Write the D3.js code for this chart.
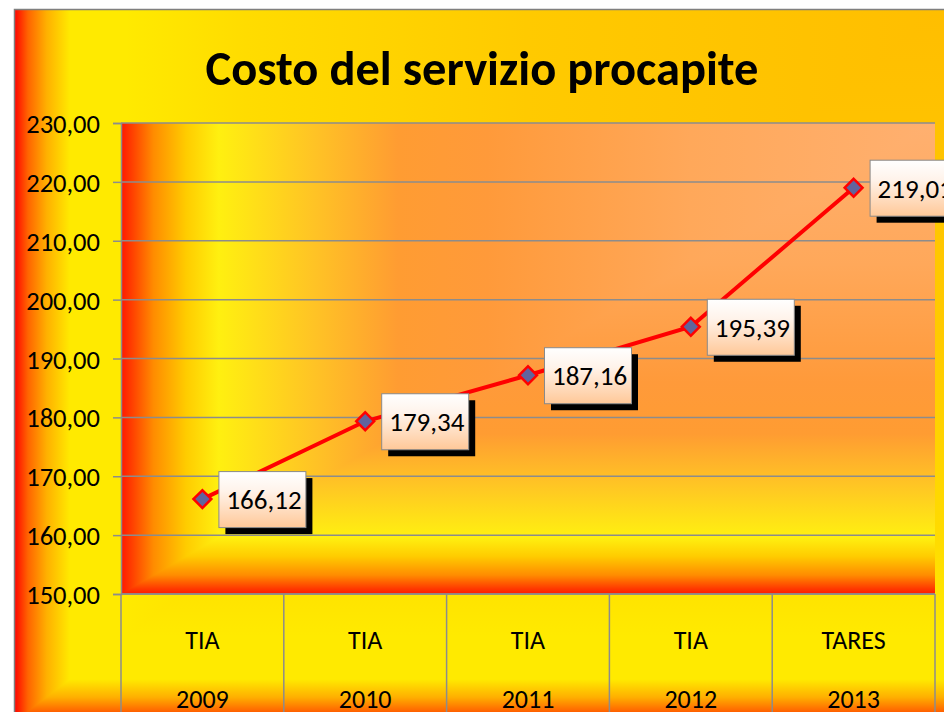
<!DOCTYPE html>
<html>
<head>
<meta charset="utf-8">
<script src="https://cdn.jsdelivr.net/npm/d3@7"></script>
<style>
  html, body { margin: 0; padding: 0; background: #ffffff; }
  svg { display: block; }
  text { font-family: Carlito, Calibri, Lato, sans-serif; }
</style>
</head>
<body>
<div id="chart"></div>
<script>
// --------------------------- Data ---------------------------
const tariffe = ["TIA", "TIA", "TIA", "TIA", "TARES"];
const anni = ["2009", "2010", "2011", "2012", "2013"];
const costi = [166.12, 179.34, 187.16, 195.39, 219.01];
const yTicks = [150, 160, 170, 180, 190, 200, 210, 220, 230];
const titolo = "Costo del servizio procapite";

(function () {
  const width = 944;
  const height = 712;

  // plot area box
  const plot = { left: 121, right: 935, top: 123, bottom: 594 };

  const it = d3.formatLocale({ decimal: ",", thousands: ".", grouping: [3], currency: ["", " €"] });
  const fmt = it.format(".2f");

  const svg = d3
    .select("#chart")
    .append("svg")
    .attr("width", width)
    .attr("height", height);

  const defs = svg.append("defs");

  // rectangular gradient starting from the top-right corner (like Excel "from corner")
  // drawn as a horizontal gradient + vertical gradient clipped to the lower triangle
  function rectGradient(id, x0, y0, x1, y1, stops) {
    const h = defs.append("linearGradient")
      .attr("id", id + "_h")
      .attr("gradientUnits", "userSpaceOnUse")
      .attr("x1", x1).attr("y1", 0).attr("x2", x0).attr("y2", 0);
    const v = defs.append("linearGradient")
      .attr("id", id + "_v")
      .attr("gradientUnits", "userSpaceOnUse")
      .attr("x1", 0).attr("y1", y0).attr("x2", 0).attr("y2", y1);
    [h, v].forEach((g) => {
      g.selectAll("stop")
        .data(stops)
        .join("stop")
        .attr("offset", (d) => d[0])
        .attr("stop-color", (d) => d[1]);
    });
    const g = svg.append("g");
    g.append("rect")
      .attr("x", x0).attr("y", y0)
      .attr("width", x1 - x0).attr("height", y1 - y0)
      .attr("fill", `url(#${id}_h)`);
    g.append("polygon")
      .attr("points", `${x1},${y0} ${x1},${y1} ${x0},${y1}`)
      .attr("fill", `url(#${id}_v)`);
    return g;
  }

  // --------------------------- Backgrounds ---------------------------
  rectGradient("outer", 14, 9, 946, 722, [
    [0, "#FFBE00"],
    [0.45, "#FFCA00"],
    [0.75, "#FFDC00"],
    [0.88, "#FFEA00"],
    [0.94, "#FFEA00"],
    [0.965, "#FFB000"],
    [0.985, "#FF6400"],
    [1, "#FF0000"]
  ]);

  rectGradient("plot", plot.left, plot.top, plot.right, plot.bottom, [
    [0, "#FFB070"],
    [0.3, "#FFA85A"],
    [0.55, "#FF9A3A"],
    [0.66, "#FF9C32"],
    [0.77, "#FFC624"],
    [0.88, "#FFF010"],
    [0.92, "#FFCC00"],
    [0.96, "#FF8C00"],
    [1, "#FF1800"]
  ]);

  // outer border (left + top)
  svg.append("path")
    .attr("d", `M14.5,${height} V9.5 H${width}`)
    .attr("fill", "none")
    .attr("stroke", "#7f7f7f")
    .attr("stroke-width", 1.5);

  // --------------------------- Scales ---------------------------
  const x = d3.scaleBand()
    .domain(anni)
    .range([plot.left, plot.right])
    .padding(0);

  const y = d3.scaleLinear()
    .domain([150, 230])
    .range([plot.bottom, plot.top]);

  // --------------------------- Grid + axes ---------------------------
  svg.append("g")
    .selectAll("line")
    .data(yTicks)
    .join("line")
    .attr("x1", plot.left)
    .attr("x2", plot.right)
    .attr("y1", (d) => y(d))
    .attr("y2", (d) => y(d))
    .attr("stroke", "#8c8c8c")
    .attr("stroke-width", 1.5);

  const yAxis = svg.append("g")
    .attr("transform", `translate(${plot.left},0)`)
    .call(d3.axisLeft(y).tickValues(yTicks).tickFormat(fmt).tickSize(8).tickPadding(13));

  yAxis.select(".domain").attr("stroke", "#8c8c8c").attr("stroke-width", 1.5);
  yAxis.selectAll(".tick line").attr("stroke", "#8c8c8c").attr("stroke-width", 1.5);
  yAxis.selectAll(".tick text")
    .attr("font-family", "Carlito, Calibri, Lato, sans-serif")
    .attr("font-size", 26.5)
    .attr("dy", "0.36em")
    .attr("fill", "#000");

  // category dividers
  const bounds = anni.map((d) => x(d)).concat([x(anni[anni.length - 1]) + x.bandwidth()]);
  svg.append("g")
    .selectAll("line")
    .data(bounds)
    .join("line")
    .attr("x1", (d) => d)
    .attr("x2", (d) => d)
    .attr("y1", plot.bottom)
    .attr("y2", height)
    .attr("stroke", "#8c8c8c")
    .attr("stroke-width", 1.5);

  svg.append("line")
    .attr("x1", plot.left)
    .attr("x2", plot.right)
    .attr("y1", plot.bottom)
    .attr("y2", plot.bottom)
    .attr("stroke", "#8c8c8c")
    .attr("stroke-width", 1.5);

  // two level category labels
  const cat = svg.append("g")
    .attr("font-size", 26)
    .attr("text-anchor", "middle")
    .attr("fill", "#000");

  cat.selectAll("text.tariffa")
    .data(anni)
    .join("text")
    .attr("class", "tariffa")
    .attr("x", (d) => x(d) + x.bandwidth() / 2)
    .attr("y", 649)
    .text((d, i) => tariffe[i]);

  cat.selectAll("text.anno")
    .data(anni)
    .join("text")
    .attr("class", "anno")
    .attr("x", (d) => x(d) + x.bandwidth() / 2)
    .attr("y", 708)
    .text((d) => d);

  // --------------------------- Title ---------------------------
  svg.append("text")
    .attr("x", 482)
    .attr("y", 85)
    .attr("text-anchor", "middle")
    .attr("font-size", 48.5)
    .attr("font-weight", "bold")
    .attr("fill", "#000")
    .text(titolo);

  // --------------------------- Line + markers ---------------------------
  const pts = costi.map((v, i) => [x(anni[i]) + x.bandwidth() / 2, y(v)]);

  svg.append("path")
    .datum(pts)
    .attr("d", d3.line())
    .attr("fill", "none")
    .attr("stroke", "#ff0000")
    .attr("stroke-width", 4);

  svg.append("g")
    .selectAll("path")
    .data(pts)
    .join("path")
    .attr("d", d3.symbol(d3.symbolSquare, 160))
    .attr("transform", (d) => `translate(${d[0]},${d[1]}) rotate(45)`)
    .attr("fill", "#61649C")
    .attr("stroke", "#ff0000")
    .attr("stroke-width", 2.5);

  // --------------------------- Data labels ---------------------------
  const lg = defs.append("linearGradient")
    .attr("id", "labelFill")
    .attr("x1", 0).attr("y1", 0).attr("x2", 0).attr("y2", 1);
  lg.append("stop").attr("offset", 0).attr("stop-color", "#ffffff");
  lg.append("stop").attr("offset", 0.35).attr("stop-color", "#FFF3EA");
  lg.append("stop").attr("offset", 1).attr("stop-color", "#FFC898");

  const boxW = 87;
  const boxH = 56;

  const labels = svg.append("g")
    .selectAll("g")
    .data(costi)
    .join("g")
    .attr("transform", (d, i) => `translate(${pts[i][0] + 16},${pts[i][1] - 28})`);

  labels.append("rect")
    .attr("x", 7)
    .attr("y", 7)
    .attr("width", boxW)
    .attr("height", boxH)
    .attr("fill", "#000");

  labels.append("rect")
    .attr("x", 0.5)
    .attr("y", 0.5)
    .attr("width", boxW)
    .attr("height", boxH)
    .attr("fill", "url(#labelFill)")
    .attr("stroke", "#8a8a8a")
    .attr("stroke-width", 1);

  labels.append("text")
    .attr("x", 8)
    .attr("y", 38)
    .attr("font-size", 27)
    .attr("fill", "#000")
    .text((d) => fmt(d));
})();
</script>
</body>
</html>
